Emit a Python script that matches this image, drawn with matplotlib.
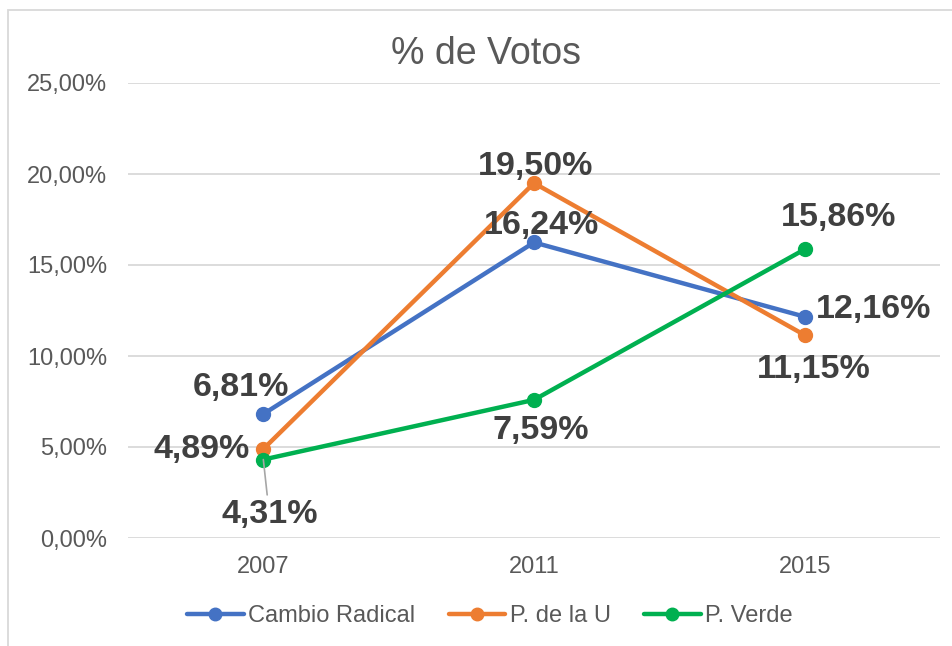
import matplotlib
matplotlib.use("Agg")
import matplotlib.pyplot as plt
from matplotlib.ticker import FuncFormatter
from matplotlib.patches import Rectangle

plt.rcParams['font.family'] = ['Liberation Sans', 'DejaVu Sans']

years = ['2007', '2011', '2015']
series_names = ['Cambio Radical', 'P. de la U', 'P. Verde']
cambio_radical = [6.81, 16.24, 12.16]
p_de_la_u = [4.89, 19.50, 11.15]
p_verde = [4.31, 7.59, 15.86]
colors = ['#4472C4', '#ED7D31', '#00B050']

# label offsets in pixels (dx, dy) for each series / point
offsets = [
    [(-22, 27), (7, 17), (69, 7)],
    [(-62, 0), (2, 17), (9, -34)],
    [(6, -55), (7, -31), (34, 32)],
]

fig = plt.figure(figsize=(9.53, 6.46), dpi=100)
ax = fig.add_axes([128/953, 1-538/646, (940-128)/953, (538-83)/646])

# chart border
fig.patches.append(Rectangle((8/953, -0.1), 1.2, 1 - 10/646 + 0.1, transform=fig.transFigure,
                             fill=False, edgecolor='#D9D9D9', linewidth=1.3))

x = range(len(years))
all_series = [cambio_radical, p_de_la_u, p_verde]
for i, (name, vals, c) in enumerate(zip(series_names, all_series, colors)):
    ax.plot(x, [v/100 for v in vals], color=c, lw=3.2, marker='o', ms=10,
            label=name, zorder=3, solid_capstyle='round')
    for j, v in enumerate(vals):
        dx, dy = offsets[i][j]
        txt = f"{v:.2f}%".replace('.', ',')
        kw = {}
        if i == 2 and j == 0:
            kw['arrowprops'] = dict(arrowstyle='-', color='#A6A6A6', lw=1.2,
                                    shrinkA=1, shrinkB=0)
        ax.annotate(txt, (j, v/100), xytext=(dx, dy), textcoords='offset pixels',
                    ha='center', va='center', fontsize=24.5, fontweight='bold',
                    color='#404040', zorder=4, **kw)

ax.set_xlim(-0.5, 2.5)
ax.set_ylim(0, 0.25)
ax.set_xticks(list(x))
ax.set_xticklabels(years)
ax.set_yticks([0, 0.05, 0.10, 0.15, 0.20, 0.25])
ax.yaxis.set_major_formatter(FuncFormatter(lambda v, p: f"{v*100:.2f}%".replace('.', ',')))
ax.tick_params(length=0, labelsize=17, labelcolor='#595959')
ax.tick_params(axis='y', pad=15)
ax.tick_params(axis='x', pad=13)
ax.grid(axis='y', color='#D9D9D9', lw=1.3)
ax.set_axisbelow(True)
for s in ax.spines.values():
    s.set_visible(False)

fig.text(486/953, 1-54/646, '% de Votos', ha='center', va='center',
         fontsize=27, color='#595959')

fig.legend(loc='center', bbox_to_anchor=(490/953, 1-616/646), ncol=3, frameon=False,
           fontsize=17, labelcolor='#595959', handlelength=2.4, handletextpad=0.2,
           columnspacing=1.4, markerscale=0.9)

fig.savefig('out.png', dpi=100)
